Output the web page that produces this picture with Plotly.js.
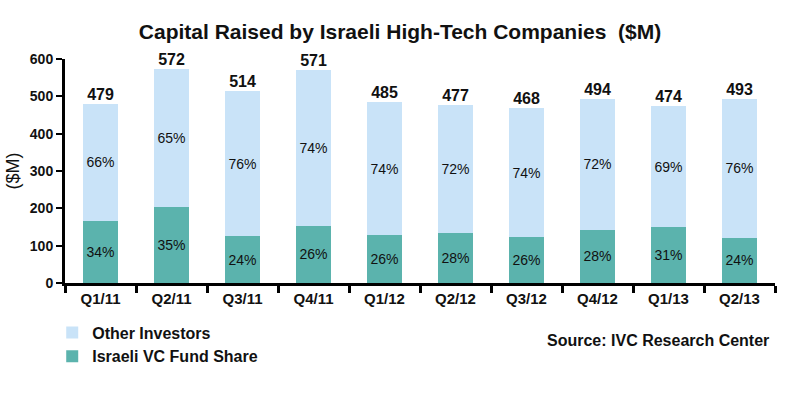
<!DOCTYPE html>
<html>
<head>
<meta charset="utf-8">
<script src="https://cdn.plot.ly/plotly-3.0.1.min.js"></script>
<style>html,body{margin:0;padding:0;background:#fff;}#chart{width:800px;height:400px;}</style>
</head>
<body>
<div id="chart"></div>
<script>
const quarters = ["Q1/11","Q2/11","Q3/11","Q4/11","Q1/12","Q2/12","Q3/12","Q4/12","Q1/13","Q2/13"];
const totals = [479, 572, 514, 571, 485, 477, 468, 494, 474, 493];
const vcValues = [167, 204, 125, 153, 128, 134, 122, 143, 150, 121];
const otherValues = [312, 368, 389, 418, 357, 343, 346, 351, 324, 372];
const vcPct = ["34%","35%","24%","26%","26%","28%","26%","28%","31%","24%"];
const otherPct = ["66%","65%","76%","74%","74%","72%","74%","72%","69%","76%"];

const FONT = "Liberation Sans, Arial, sans-serif";
const traces = [
  {
    type: "bar", name: "Israeli VC Fund Share", x: quarters, y: vcValues,
    text: vcPct, textposition: "inside", insidetextanchor: "middle",
    textfont: {family: FONT, size: 14, color: "#111"},
    marker: {color: "#5bb3ad"}, hoverinfo: "skip"
  },
  {
    type: "bar", name: "Other Investors", x: quarters, y: otherValues,
    text: otherPct, textposition: "inside", insidetextanchor: "middle",
    textfont: {family: FONT, size: 14, color: "#111"},
    marker: {color: "#c9e3f8"}, hoverinfo: "skip"
  },
  {
    type: "scatter", mode: "text", x: quarters, y: totals,
    text: totals.map(String), textposition: "top center",
    textfont: {family: FONT, size: 16, color: "#111", weight: "bold"},
    showlegend: false, hoverinfo: "skip", cliponaxis: false
  }
];

const layout = {
  width: 800, height: 400,
  paper_bgcolor: "#fff", plot_bgcolor: "#fff",
  margin: {l: 65, r: 25, t: 59, b: 117},
  barmode: "stack", bargap: 0.5,
  font: {family: FONT, color: "#111"},
  title: {
    text: "<b>Capital Raised by Israeli High-Tech Companies  ($M)</b>",
    x: 0.5, xanchor: "center", y: 0.92, yanchor: "middle",
    font: {family: FONT, size: 21, color: "#111"}
  },
  xaxis: {
    type: "category", showgrid: false, zeroline: false,
    showline: true, linecolor: "#000", linewidth: 3,
    ticks: "outside", tickson: "boundaries", ticklen: 7, tickwidth: 3, tickcolor: "#000",
    tickfont: {family: FONT, size: 15, color: "#111", weight: "bold"}
  },
  yaxis: {
    range: [0, 600], dtick: 100, showgrid: false, zeroline: false,
    showline: true, linecolor: "#000", linewidth: 3,
    ticks: "outside", ticklen: 6, tickwidth: 2, tickcolor: "#000",
    tickfont: {family: FONT, size: 14, color: "#111", weight: "bold"},
    title: {text: "($M)", font: {family: FONT, size: 18, color: "#111"}, standoff: 6}
  },
  legend: {
    x: -0.018, xanchor: "left", y: -0.145, yanchor: "top",
    orientation: "v", traceorder: "reversed",
    font: {family: FONT, size: 16, color: "#111", weight: "bold"},
    bgcolor: "rgba(0,0,0,0)", tracegroupgap: 0, itemwidth: 30
  },
  annotations: [{
    xref: "paper", yref: "paper", x: 0.995, y: -0.258, xanchor: "right", yanchor: "middle",
    text: "<b>Source: IVC Research Center</b>", showarrow: false,
    font: {family: FONT, size: 16, color: "#111"}
  }]
};

Plotly.newPlot("chart", traces, layout, {displayModeBar: false, staticPlot: true});
</script>
</body>
</html>
